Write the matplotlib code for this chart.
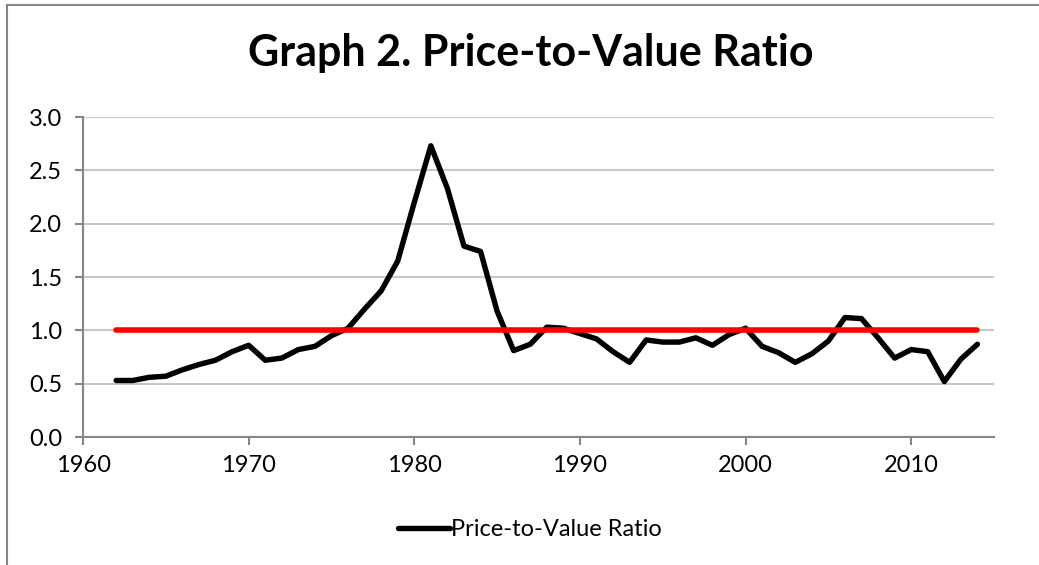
import matplotlib
matplotlib.use("Agg")
import matplotlib.pyplot as plt
from matplotlib.lines import Line2D

plt.rcParams['font.family'] = ['Lato', 'DejaVu Sans']

# data
years = list(range(1962, 2015))
ratio = [0.53, 0.53, 0.56, 0.57, 0.63, 0.68, 0.72, 0.80, 0.86, 0.72,
         0.74, 0.82, 0.85, 0.95, 1.02, 1.20, 1.37, 1.65, 2.20, 2.73,
         2.33, 1.79, 1.74, 1.18, 0.81, 0.87, 1.03, 1.02, 0.97, 0.92,
         0.80, 0.70, 0.91, 0.89, 0.89, 0.93, 0.86, 0.96, 1.02, 0.85,
         0.79, 0.70, 0.78, 0.90, 1.12, 1.11, 0.93, 0.74, 0.82, 0.80,
         0.52, 0.73, 0.87]
fair_years = [1962, 2014]
fair_value = [1.0, 1.0]
x_ticks = [1960, 1970, 1980, 1990, 2000, 2010]
y_ticks = [0.0, 0.5, 1.0, 1.5, 2.0, 2.5, 3.0]

fig = plt.figure(figsize=(10.39, 5.65), dpi=100)
ax = fig.add_axes([0.0799, 0.2265, 0.8768, 0.5664])

axis_grey = '#868686'
grid_grey = '#c8c8c8'

ax.plot(years, ratio, color='black', lw=3.9, solid_joinstyle='round',
        solid_capstyle='round', zorder=3)
ax.plot(fair_years, fair_value, color='#ff0000', lw=4.0,
        solid_capstyle='round', zorder=4)

ax.set_xlim(1960, 2015)
ax.set_ylim(0, 3)
ax.set_xticks(x_ticks)
ax.set_yticks(y_ticks)
ax.set_yticklabels([f'{v:.1f}' for v in y_ticks])
ax.yaxis.grid(True, color=grid_grey, lw=1.5)
ax.set_axisbelow(True)

for s in ['top', 'right']:
    ax.spines[s].set_visible(False)
for s in ['left', 'bottom']:
    ax.spines[s].set_color(axis_grey)
    ax.spines[s].set_linewidth(1.5)
ax.tick_params(axis='both', colors=axis_grey, labelcolor='black',
               labelsize=17, length=6, width=1.5, direction='out')
ax.tick_params(axis='y', pad=9)
ax.tick_params(axis='x', pad=7)

fig.text(0.511, 0.906, 'Graph 2. Price-to-Value Ratio', ha='center',
         va='center', fontsize=31, fontweight='bold')

handle = Line2D([], [], color='black', lw=3.9, solid_capstyle='round')
fig.legend([handle], ['Price-to-Value Ratio'], loc='center',
           bbox_to_anchor=(0.51, 0.063), frameon=False, fontsize=17,
           handlelength=2.2, handletextpad=0.05)

# chart area border (left and top edges visible)
fig.add_artist(Line2D([7 / 1039, 7 / 1039], [0, 1 - 5 / 565],
                      transform=fig.transFigure, color=axis_grey, lw=1.5))
fig.add_artist(Line2D([7 / 1039, 1], [1 - 5 / 565, 1 - 5 / 565],
                      transform=fig.transFigure, color=axis_grey, lw=1.5))

fig.savefig('out.png', dpi=100)
